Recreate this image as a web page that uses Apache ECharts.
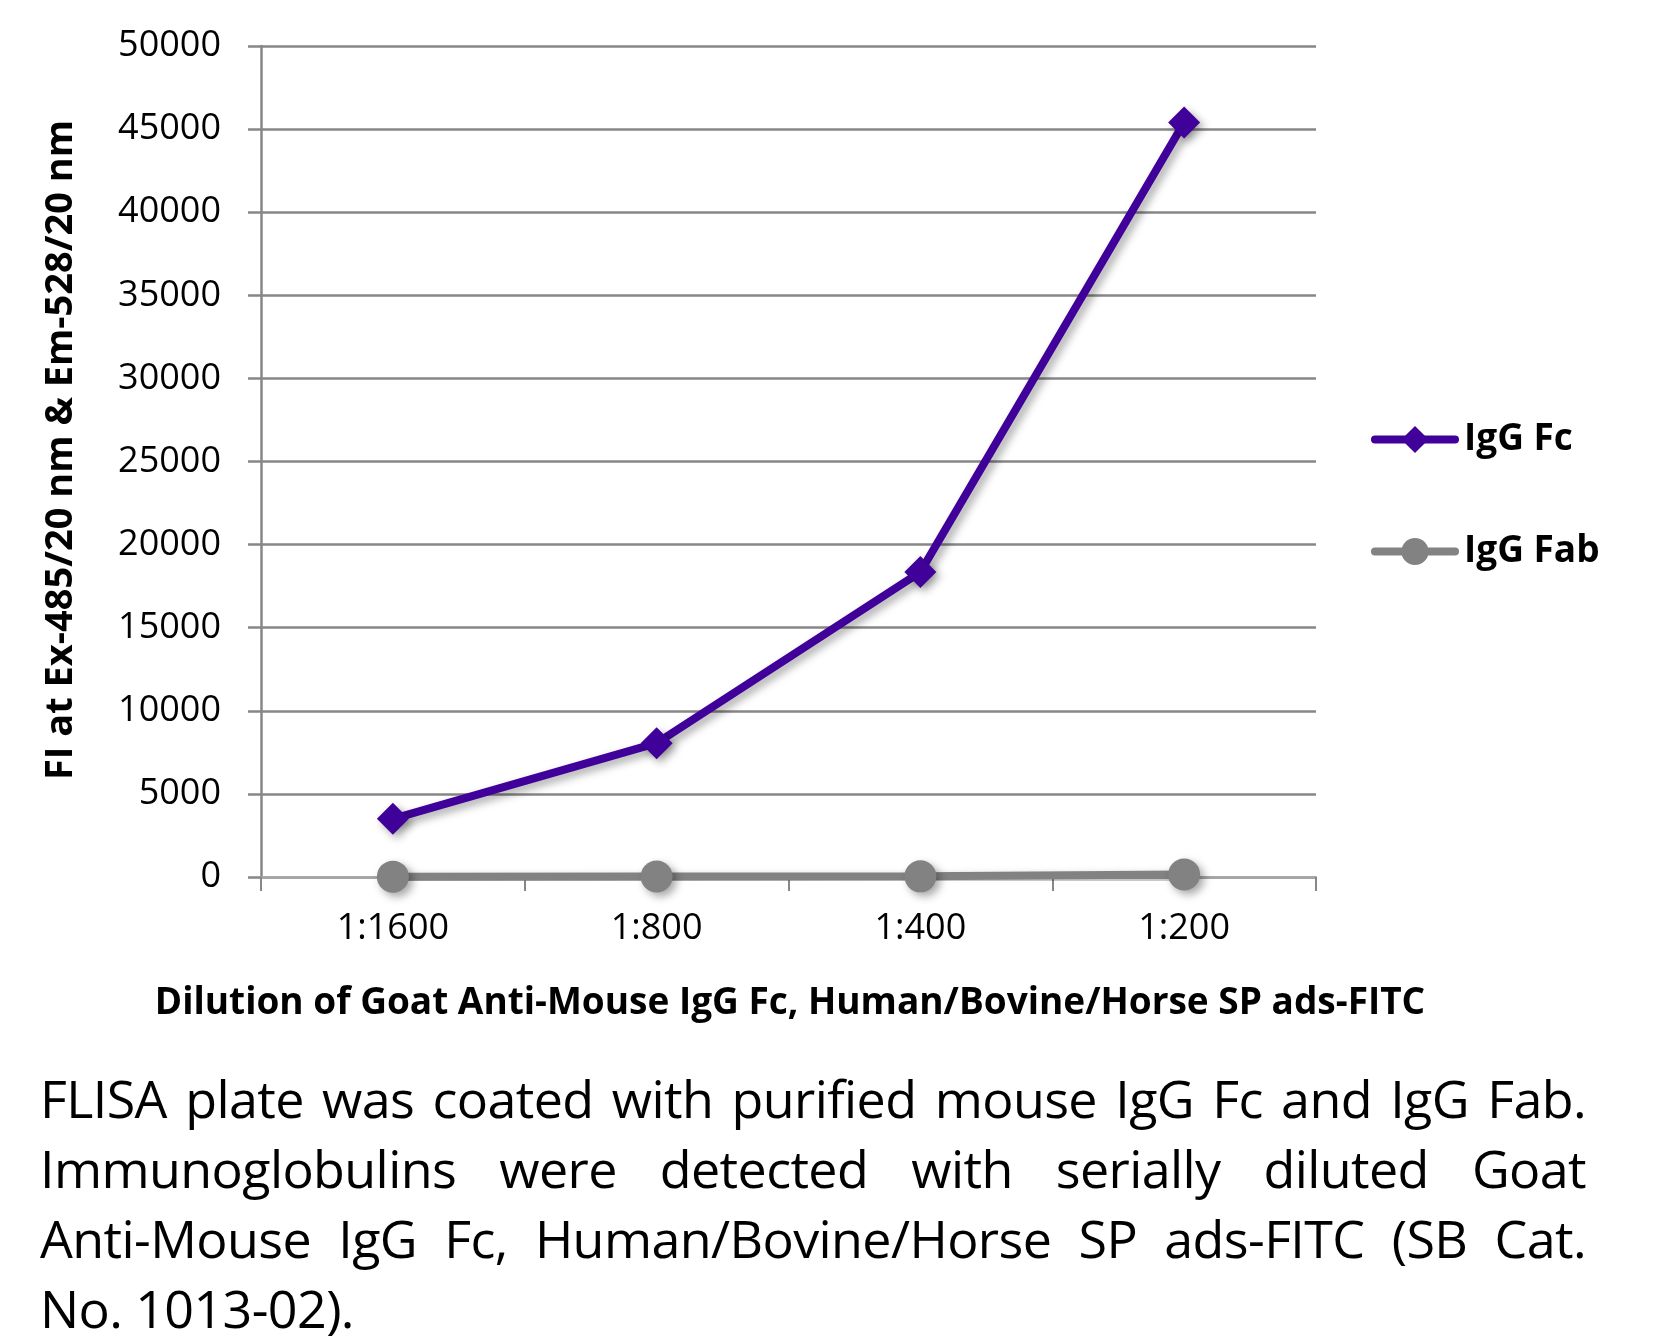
<!DOCTYPE html>
<html>
<head>
<meta charset="utf-8">
<script src="https://cdn.jsdelivr.net/npm/echarts@6/dist/echarts.min.js"></script>
<style>
  html, body { margin: 0; padding: 0; background: #fff; }
  #chart { position: absolute; left: 0; top: 0; width: 1655px; height: 1344px; }
  #caption { position: absolute; left: 40px; top: 1063px; width: 1546px;
    font-family: 'Open Sans', sans-serif; font-size: 52px; line-height: 70px; color: #000;
    letter-spacing: -0.6px; }
  #caption .j { text-align: justify; text-align-last: justify; white-space: nowrap; }
</style>
</head>
<body>
<div id="chart"></div>
<div id="caption">
  <div class="j">FLISA plate was coated with purified mouse IgG Fc and IgG Fab.</div>
  <div class="j">Immunoglobulins were detected with serially diluted Goat</div>
  <div class="j">Anti-Mouse IgG Fc, Human/Bovine/Horse SP ads-FITC (SB Cat.</div>
  <div>No. 1013-02).</div>
</div>
<script>
const categories = ['1:1600', '1:800', '1:400', '1:200'];
const iggFc = [3500, 8050, 18350, 45400];
const iggFab = [20, 30, 40, 150];
const seriesNames = ['IgG Fc', 'IgG Fab'];
const yMin = 0, yMax = 50000, yInterval = 5000;
const xTitle = 'Dilution of Goat Anti-Mouse IgG Fc, Human/Bovine/Horse SP ads-FITC';
const yTitle = 'FI at Ex-485/20 nm & Em-528/20 nm';

const FONT = "'Open Sans', sans-serif";
const GRID = '#878787';
const shadow = { shadowColor: 'rgba(0,0,0,0.35)', shadowBlur: 8, shadowOffsetX: 4, shadowOffsetY: 4 };

const chart = echarts.init(document.getElementById('chart'), null, { renderer: 'canvas' });
chart.setOption({
  animation: false,
  backgroundColor: '#fff',
  textStyle: { fontFamily: FONT },
  grid: { left: 261, right: 339, top: 46, bottom: 467, containLabel: false },
  xAxis: {
    type: 'category',
    data: categories,
    boundaryGap: true,
    axisLine: { lineStyle: { color: '#a6a6a6', width: 2 } },
    axisTick: { show: true, alignWithLabel: false, length: 14, lineStyle: { color: GRID, width: 2 } },
    axisLabel: { color: '#000', fontSize: 36, fontFamily: FONT, margin: 34 },
    splitLine: { show: false }
  },
  yAxis: {
    type: 'value',
    min: yMin, max: yMax, interval: yInterval,
    axisLine: { show: true, lineStyle: { color: GRID, width: 2.5 } },
    axisTick: { show: true, length: 13, lineStyle: { color: GRID, width: 2.5 } },
    axisLabel: { color: '#000', fontSize: 36, fontFamily: FONT, margin: 40, formatter: v => String(v) },
    splitLine: { show: true, lineStyle: { color: GRID, width: 2.5 } }
  },
  legend: {
    orient: 'vertical',
    left: 1366, top: 416,
    itemWidth: 80, itemHeight: 34, itemGap: 75,
    lineStyle: { width: 8, cap: 'round' },
    textStyle: { color: '#000', fontSize: 37, fontWeight: 'bold', fontFamily: FONT, padding: [0, 0, 0, 4] },
    data: seriesNames
  },
  series: [
    {
      name: seriesNames[0], type: 'line', data: iggFc,
      symbol: 'diamond', symbolSize: 32,
      lineStyle: Object.assign({ color: '#40009a', width: 8 }, shadow),
      itemStyle: Object.assign({ color: '#40009a' }, shadow),
      z: 3
    },
    {
      name: seriesNames[1], type: 'line', data: iggFab,
      symbol: 'circle', symbolSize: 32,
      lineStyle: Object.assign({ color: '#828282', width: 8 }, shadow),
      itemStyle: Object.assign({ color: '#828282' }, shadow),
      z: 2
    }
  ],
  graphic: [
    {
      type: 'text', x: 790, y: 1003,
      style: { text: xTitle, fill: '#000', font: "bold 37px 'Open Sans', sans-serif", align: 'center', verticalAlign: 'middle' }
    },
    {
      type: 'text', x: 61, y: 450, rotation: Math.PI / 2,
      style: { text: yTitle, fill: '#000', font: "bold 38px 'Open Sans', sans-serif", align: 'center', verticalAlign: 'middle' }
    }
  ]
});
</script>
</body>
</html>
